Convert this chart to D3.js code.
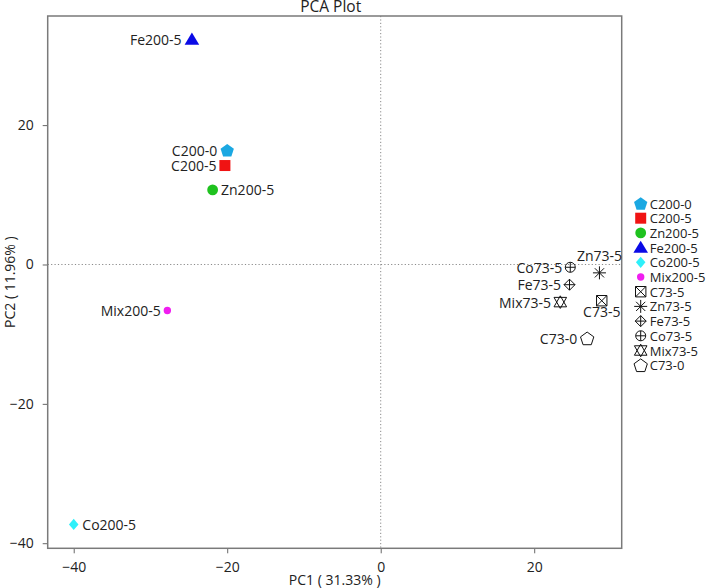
<!DOCTYPE html>
<html>
<head>
<meta charset="utf-8">
<script src="https://cdn.jsdelivr.net/npm/d3@7"></script>
<style>
  html, body { margin: 0; padding: 0; background: #fff; }
  svg { display: block; font-family: "Open Sans", "Noto Sans", sans-serif; }
</style>
</head>
<body>
<div id="pca"></div>
<script>
// sample names (legend order), PC scores
const samples = ['C200-0', 'C200-5', 'Zn200-5', 'Fe200-5', 'Co200-5', 'Mix200-5',
                 'C73-5', 'Zn73-5', 'Fe73-5', 'Co73-5', 'Mix73-5', 'C73-0'];
const pc1 = [-20.0, -20.3, -21.9, -24.6, -40.0, -27.8, 28.8, 28.5, 24.6, 24.7, 23.4, 26.9];
const pc2 = [16.4, 14.2, 10.7, 32.3, -37.3, -6.6, -5.2, -1.2, -2.9, -0.4, -5.4, -10.6];
const xTicks = [-40, -20, 0, 20];
const yTicks = [-40, -20, 0, 20];
const xTitle = 'PC1 ( 31.33% )';
const yTitle = 'PC2 ( 11.96% )';
const chartTitle = 'PCA Plot';

// marker + label placement per sample
const style = {
  'C200-0':   { shape: 'pentagon', fill: '#1ba8e2', size: 7,   side: 'left' },
  'C200-5':   { shape: 'square',   fill: '#f01313', size: 5.5, side: 'left' },
  'Zn200-5':  { shape: 'circle',   fill: '#1fc21f', size: 5.4, side: 'right' },
  'Fe200-5':  { shape: 'triangle', fill: '#0a0ae6', size: 7.3, side: 'left' },
  'Co200-5':  { shape: 'diamond',  fill: '#2ef0fa', size: 5.6, side: 'right' },
  'Mix200-5': { shape: 'circle',   fill: '#f01ef0', size: 3.7, side: 'left' },
  'C73-5':    { shape: 'squareX',  fill: 'none', size: 5.2, side: 'below' },
  'Zn73-5':   { shape: 'asterisk', fill: 'none', size: 6.5, side: 'above' },
  'Fe73-5':   { shape: 'diamondPlus', fill: 'none', size: 5.5, side: 'left' },
  'Co73-5':   { shape: 'circlePlus', fill: 'none', size: 5, side: 'left' },
  'Mix73-5':  { shape: 'star6',    fill: 'none', size: 6.3, side: 'left' },
  'C73-0':    { shape: 'pentagon', fill: 'none', size: 7,   side: 'left' }
};

function poly(pts) { return 'M' + pts.map(p => p.join(',')).join('L') + 'Z'; }
function circ(r) { return `M${-r},0A${r},${r} 0 1,0 ${r},0A${r},${r} 0 1,0 ${-r},0Z`; }
function symbolPath(shape, s) {
  switch (shape) {
    case 'pentagon':
      return poly(d3.range(5).map(k => {
        const a = -Math.PI / 2 + k * 2 * Math.PI / 5;
        return [s * Math.cos(a), s * Math.sin(a) + s * 0.1];
      }));
    case 'square': return poly([[-s, -s], [s, -s], [s, s], [-s, s]]);
    case 'circle': return circ(s);
    case 'triangle': return poly([[0, -s * 0.95], [s, s * 0.72], [-s, s * 0.72]]);
    case 'diamond': return poly([[0, -s], [s * 0.85, 0], [0, s], [-s * 0.85, 0]]);
    case 'squareX':
      return poly([[-s, -s], [s, -s], [s, s], [-s, s]]) + `M${-s},${-s}L${s},${s}M${s},${-s}L${-s},${s}`;
    case 'asterisk': {
      const d = s * 0.707;
      return `M${-s},0L${s},0M0,${-s}L0,${s}M${-d},${-d}L${d},${d}M${d},${-d}L${-d},${d}`;
    }
    case 'diamondPlus':
      return poly([[0, -s], [s, 0], [0, s], [-s, 0]]) + `M${-s},0L${s},0M0,${-s}L0,${s}`;
    case 'circlePlus':
      return circ(s) + `M${-s},0L${s},0M0,${-s}L0,${s}`;
    case 'star6':
      return poly([[0, -s], [s, s * 0.75], [-s, s * 0.75]]) +
             poly([[0, s], [s, -s * 0.75], [-s, -s * 0.75]]);
  }
}

const width = 709, height = 588;
const plot = { left: 47.7, right: 621.7, top: 16, bottom: 548.3 };

const svg = d3.select('#pca').append('svg')
  .attr('width', width).attr('height', height);

const x = d3.scaleLinear().domain([-43.39, 31.4]).range([plot.left, plot.right]);
const y = d3.scaleLinear().domain([-40.73, 35.66]).range([plot.bottom, plot.top]);

const data = samples.map((name, i) => ({ name, pc1: pc1[i], pc2: pc2[i], ...style[name] }));

// title
svg.append('text')
  .attr('x', (plot.left + plot.right) / 2 - 4).attr('y', 12)
  .attr('text-anchor', 'middle').attr('font-size', 15.5).attr('fill', '#222')
  .text(chartTitle);

// zero reference lines
const refG = svg.append('g').attr('stroke', '#8a8a8a').attr('stroke-dasharray', '1.2,2.2').attr('stroke-width', 1);
refG.append('line').attr('x1', x(0)).attr('x2', x(0)).attr('y1', plot.top).attr('y2', plot.bottom);
refG.append('line').attr('x1', plot.left).attr('x2', plot.right).attr('y1', y(0)).attr('y2', y(0));

// axes
const gx = svg.append('g').attr('transform', `translate(0,${plot.bottom})`)
  .call(d3.axisBottom(x).tickValues(xTicks).tickSize(5).tickPadding(9));
const gy = svg.append('g').attr('transform', `translate(${plot.left},0)`)
  .call(d3.axisLeft(y).tickValues(yTicks).tickSize(5).tickPadding(9));
[gx, gy].forEach(g => {
  g.select('.domain').remove();
  g.selectAll('line').attr('stroke', '#666');
  g.selectAll('text').attr('font-size', 14).attr('fill', '#222')
    .style('font-family', '"Open Sans", "Noto Sans", sans-serif');
});

// frame
svg.append('rect')
  .attr('x', plot.left).attr('y', plot.top)
  .attr('width', plot.right - plot.left).attr('height', plot.bottom - plot.top)
  .attr('fill', 'none').attr('stroke', '#7a7a7a').attr('stroke-width', 1.5);

// axis titles
svg.append('text')
  .attr('x', (plot.left + plot.right) / 2).attr('y', 585)
  .attr('text-anchor', 'middle').attr('font-size', 14).attr('fill', '#222')
  .text(xTitle);
svg.append('text')
  .attr('transform', `translate(15,${(plot.top + plot.bottom) / 2}) rotate(-90)`)
  .attr('text-anchor', 'middle').attr('font-size', 14).attr('fill', '#222')
  .text(yTitle);

// points
const pts = svg.append('g').selectAll('g.pt').data(data).join('g')
  .attr('class', 'pt')
  .attr('transform', d => `translate(${x(d.pc1)},${y(d.pc2)})`);
pts.append('path')
  .attr('d', d => symbolPath(d.shape, d.size))
  .attr('fill', d => d.fill)
  .attr('stroke', d => d.fill === 'none' ? '#111' : 'none')
  .attr('stroke-width', 1);

pts.append('text')
  .attr('font-size', 14).attr('fill', '#222')
  .attr('dominant-baseline', 'central')
  .attr('text-anchor', d => d.side === 'left' ? 'end' : d.side === 'right' ? 'start' : 'middle')
  .attr('x', d => d.side === 'left' ? -(d.size + 3) : d.side === 'right' ? d.size + 3 : 0)
  .attr('y', d => d.side === 'above' ? -17 : d.side === 'below' ? 11 : 0)
  .text(d => d.name);

// legend
const legend = svg.append('g').attr('transform', 'translate(640.7,203.5)');
const items = legend.selectAll('g').data(data).join('g')
  .attr('transform', (d, i) => `translate(0,${i * 14.7})`);
items.append('path')
  .attr('d', d => symbolPath(d.shape, d.size))
  .attr('fill', d => d.fill)
  .attr('stroke', d => d.fill === 'none' ? '#111' : 'none')
  .attr('stroke-width', 1);
items.append('text')
  .attr('x', 9).attr('dominant-baseline', 'central')
  .attr('font-size', 13).attr('fill', '#222')
  .text(d => d.name);
</script>
</body>
</html>
